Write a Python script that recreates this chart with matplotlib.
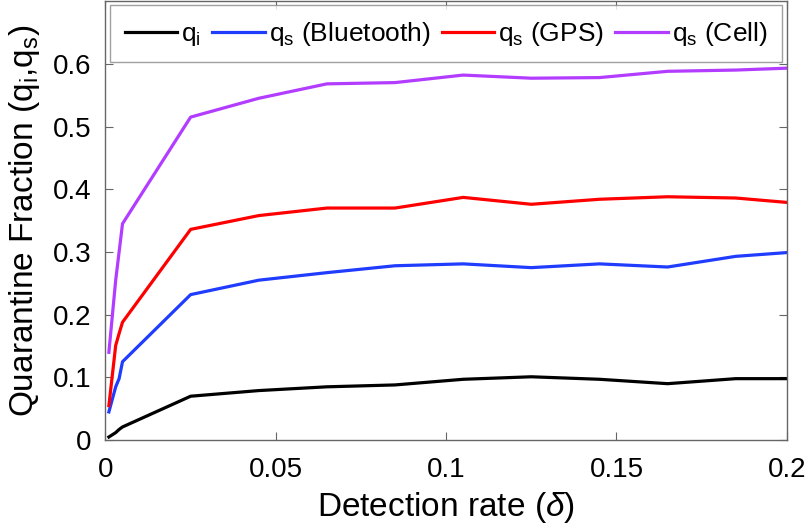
import matplotlib
matplotlib.use("Agg")
import matplotlib.pyplot as plt

plt.rcParams['font.family'] = ['Liberation Sans', 'DejaVu Sans']
plt.rcParams['mathtext.fontset'] = 'custom'
plt.rcParams['mathtext.rm'] = 'Liberation Sans'
plt.rcParams['mathtext.it'] = 'Liberation Sans:italic'

delta = [0.001, 0.003, 0.004, 0.005, 0.025, 0.045, 0.065, 0.085, 0.105, 0.125, 0.145, 0.165, 0.185, 0.2]
q_i = [0.005, 0.012, 0.017, 0.021, 0.070, 0.079, 0.085, 0.088, 0.097, 0.101, 0.097, 0.090, 0.098, 0.098]
q_bt = [0.045, 0.085, 0.098, 0.125, 0.232, 0.255, 0.267, 0.278, 0.281, 0.275, 0.281, 0.276, 0.293, 0.299]
q_gps = [0.055, 0.151, 0.170, 0.188, 0.336, 0.358, 0.370, 0.370, 0.387, 0.376, 0.384, 0.388, 0.386, 0.379]
q_cell = [0.140, 0.255, 0.300, 0.345, 0.515, 0.545, 0.568, 0.570, 0.582, 0.577, 0.578, 0.588, 0.590, 0.593]

labels = [r'q$_\mathregular{i}$', r'q$_\mathregular{s}$ (Bluetooth)',
          r'q$_\mathregular{s}$ (GPS)', r'q$_\mathregular{s}$ (Cell)']
colors = ['#000000', '#1f3cff', '#ff0000', '#b23cff']

xticks = [0, 0.05, 0.1, 0.15, 0.2]
xticklabels = ['0', '0.05', '0.1', '0.15', '0.2']
yticks = [0, 0.1, 0.2, 0.3, 0.4, 0.5, 0.6]
yticklabels = ['0', '0.1', '0.2', '0.3', '0.4', '0.5', '0.6']

fig = plt.figure(figsize=(8.07, 5.29), dpi=100)
ax = fig.add_axes([0.1307, 0.168, 0.8443, 0.830])

for y, lab, c in zip([q_i, q_bt, q_gps, q_cell], labels, colors):
    ax.plot(delta, y, color=c, lw=2.3, label=lab)

ax.set_xlim(0, 0.2)
ax.set_ylim(0, 0.7)
ax.set_xticks(xticks)
ax.set_xticklabels(xticklabels)
ax.set_yticks(yticks)
ax.set_yticklabels(yticklabels)
ax.tick_params(direction='in', length=6, width=0.8, color='#666666',
               labelsize=20, top=True, right=True)
ax.tick_params(axis='x', pad=12)
ax.tick_params(axis='y', pad=10)
for s in ax.spines.values():
    s.set_color('#666666')
    s.set_linewidth(1.0)

ax.set_xlabel(r'Detection rate ($\delta$)', fontsize=24, labelpad=5)
ax.set_ylabel(r'Quarantine Fraction (q$_\mathregular{i}$,q$_\mathregular{s}$)', fontsize=24)
ax.yaxis.set_label_coords(-0.093, 0.5)

leg = ax.legend(loc='upper center', ncol=4, fontsize=19, frameon=True, fancybox=False,
                edgecolor='#888888', handlelength=2.0, handletextpad=0.15, columnspacing=0.42,
                borderpad=0.55, borderaxespad=0, bbox_to_anchor=(0.5, 0.99))
leg.get_frame().set_linewidth(1.0)

fig.savefig('out.png', dpi=100)
